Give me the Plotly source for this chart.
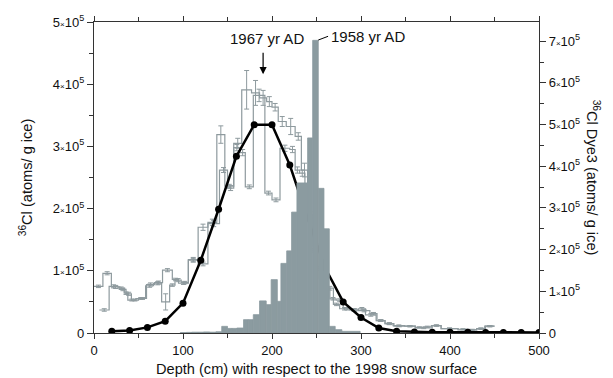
import plotly.graph_objects as go

# ---------------- data (values in units of 1e5 atoms/g ice) ----------------
# Summit 36Cl step profile, series A (bin edges in cm, values, 1-sigma errors)
a_edges = [0, 10, 19.5, 29, 36, 42, 50, 59, 68, 77, 88, 95, 106, 117, 128, 138, 147, 157, 166, 177,
           186, 194, 200, 207, 216, 226, 233, 240, 246, 253, 261, 269, 276, 287, 297, 305, 317, 327,
           337, 349, 361, 370, 379, 390, 409, 420, 430, 439, 450]
a_values = [0.75, 0.96, 0.74, 0.70, 0.63, 0.53, 0.555, 0.78, 0.81, 1.01, 0.86, 0.80, 1.18, 1.70, 1.78,
            3.19, 2.36, 3.05, 3.91, 3.86, 3.78, 3.72, 3.63, 3.40, 3.32, 3.16, 2.62, 1.90, 1.40, 0.88,
            0.72, 0.46, 0.39, 0.37, 0.39, 0.29, 0.20, 0.15, 0.11, 0.11, 0.09, 0.10, 0.12, 0.07, 0.06,
            0.05, 0.07, 0.11]
a_errors = [0.02, 0.025, 0.025, 0.02, 0.025, 0.015, 0.015, 0.025, 0.025, 0.025, 0.02, 0.02, 0.035, 0.05,
            0.05, 0.14, 0.03, 0.08, 0.31, 0.20, 0.12, 0.08, 0.06, 0.08, 0.13, 0.06, 0.11, 0.05, 0.04,
            0.03, 0.03, 0.02, 0.02, 0.02, 0.02, 0.02, 0.015, 0.015, 0.01, 0.01, 0.01, 0.01, 0.01,
            0.01, 0.01, 0.01, 0.01, 0.01]

# series B (second, offset sampling)
b_edges = [6, 17, 27, 34, 38, 47, 58, 67, 76, 85, 91, 98, 106, 117, 128, 141, 150, 157, 164, 170, 179,
           192, 200, 209, 220, 226, 231, 237, 243, 250, 257, 265, 272, 280, 289, 297, 310, 318, 327,
           336, 349, 361, 380, 390, 409, 430, 440, 450]
b_values = [0.37, 0.75, 0.72, 0.64, 0.53, 0.555, 0.76, 0.80, 0.50, 0.77, 0.85, 0.81, 1.17, 1.11, 1.76,
            2.62, 2.33, 2.98, 2.90, 2.35, 3.82, 2.25, 2.14, 2.97, 2.95, 2.62, 2.57, 2.00, 1.33, 1.04,
            0.72, 0.55, 0.53, 0.39, 0.37, 0.36, 0.31, 0.20, 0.15, 0.12, 0.11, 0.08, 0.12, 0.07, 0.05,
            0.07, 0.11]
b_errors = [0.02, 0.025, 0.02, 0.02, 0.015, 0.015, 0.025, 0.025, 0.13, 0.02, 0.025, 0.02, 0.03, 0.03,
            0.05, 0.04, 0.04, 0.05, 0.05, 0.03, 0.10, 0.03, 0.03, 0.05, 0.05, 0.05, 0.05, 0.04, 0.03,
            0.03, 0.03, 0.02, 0.02, 0.02, 0.02, 0.02, 0.02, 0.015, 0.015, 0.01, 0.01, 0.01, 0.01,
            0.01, 0.01, 0.01, 0.01]

# Dye3 36Cl histogram (right axis)
dye3_edges = [97, 104, 110, 117, 123, 130, 137, 143.5, 150, 155, 160.5, 168, 173.5, 179, 186, 193.5,
              199, 206, 210, 216.5, 222, 228, 240, 245.7, 252, 258.4, 264.4, 271, 278.5, 299]
dye3_values = [0.01, 0.015, 0.02, 0.02, 0.025, 0.02, 0.03, 0.16, 0.11, 0.11, 0.12, 0.32, 0.32, 0.44,
               0.77, 0.68, 1.28, 0.76, 1.67, 1.97, 2.90, 3.60, 4.68, 7.02, 3.47, 2.50, 0.16, 0.08, 0.04]

# model curve (left axis)
model_depth = [20, 40, 60, 80, 100, 120, 140, 160, 180, 200, 220, 240, 260, 280, 300, 320, 340, 360,
               380, 400, 420, 440, 460, 480, 500]
model_values = [0.03, 0.04, 0.09, 0.19, 0.48, 1.17, 1.99, 2.84, 3.35, 3.35, 2.70, 1.845, 1.04, 0.50,
                0.25, 0.08, 0.027, 0.016, 0.014, 0.011, 0.011, 0.01, 0.01, 0.01, 0.01]

left_ticks = [0, 1, 2, 3, 4, 5]
right_ticks = [0, 1, 2, 3, 4, 5, 6, 7]
x_ticks = [0, 100, 200, 300, 400, 500]

# ---------------- styles ----------------
STEP = "#8e9a9e"
BAR = "#8b9ba0"
AXIS = "#333333"
FONT = "Liberation Sans, Arial, sans-serif"


def sci(v):
    if v == 0:
        return "0"
    return f"{v}<span style='font-size:8px'>×</span>10<sup>5</sup>"


fig = go.Figure()

# Dye3 bars
centers = [(dye3_edges[i] + dye3_edges[i + 1]) / 2 for i in range(len(dye3_values))]
widths = [dye3_edges[i + 1] - dye3_edges[i] for i in range(len(dye3_values))]
fig.add_trace(go.Bar(x=centers, y=dye3_values, width=widths, yaxis="y2",
                     marker=dict(color=BAR, line=dict(width=0.8, color=BAR)), hoverinfo="skip"))

# step series with error bars
for edges, vals, errs in [(a_edges, a_values, a_errors), (b_edges, b_values, b_errors)]:
    fig.add_trace(go.Scatter(x=edges, y=vals + [vals[-1]], mode="lines", line_shape="hv",
                             line=dict(color=STEP, width=1.2), hoverinfo="skip"))
    mids = [(edges[i] + edges[i + 1]) / 2 for i in range(len(vals))]
    fig.add_trace(go.Scatter(x=mids, y=vals, mode="markers",
                             marker=dict(size=1, color="rgba(0,0,0,0)"),
                             error_y=dict(type="data", array=errs, visible=True, color=STEP,
                                          thickness=1, width=2.5), hoverinfo="skip"))

# model curve
fig.add_trace(go.Scatter(x=model_depth, y=model_values, mode="lines+markers",
                         line=dict(color="black", width=2.5),
                         marker=dict(color="black", size=7), hoverinfo="skip"))

fig.update_layout(
    width=613, height=378,
    margin=dict(l=94, r=74, t=22, b=45),
    plot_bgcolor="white", paper_bgcolor="white",
    showlegend=False,
    font=dict(family=FONT, size=13, color="#111"),
    xaxis=dict(range=[0, 500], tickvals=x_ticks, ticktext=[str(v) for v in x_ticks],
               ticks="outside", ticklen=5, tickwidth=1, tickcolor=AXIS,
               minor=dict(dtick=50, ticks="outside", ticklen=4, tickcolor=AXIS),
               showline=True, linecolor=AXIS, linewidth=1.2, mirror="ticks",
               showgrid=False, zeroline=False, tickfont=dict(size=13)),
    yaxis=dict(range=[0, 5], tickvals=left_ticks, ticktext=[sci(v) for v in left_ticks],
               ticks="outside", ticklen=6, tickwidth=1, tickcolor=AXIS,
               minor=dict(dtick=0.5, ticks="outside", ticklen=4, tickcolor=AXIS),
               showline=True, linecolor=AXIS, linewidth=1.2,
               showgrid=False, zeroline=False, tickfont=dict(size=13)),
    yaxis2=dict(range=[0, 7.46], overlaying="y", side="right",
                tickvals=right_ticks, ticktext=[sci(v) for v in right_ticks],
                ticks="outside", ticklen=6, tickwidth=1, tickcolor=AXIS,
                minor=dict(dtick=0.5, ticks="outside", ticklen=4, tickcolor=AXIS),
                showline=True, linecolor=AXIS, linewidth=1.2,
                showgrid=False, zeroline=False, tickfont=dict(size=13)),
)

annotations = [
    dict(text="Depth (cm) with respect to the 1998 snow surface", xref="paper", yref="paper",
         x=0.5, y=-0.115, showarrow=False, font=dict(size=14.6), yanchor="middle"),
    dict(text="<sup>36</sup>Cl (atoms/ g ice)", xref="paper", yref="paper", x=-0.178, y=0.5,
         textangle=-90, showarrow=False, font=dict(size=14.6)),
    dict(text="<sup>36</sup>Cl Dye3 (atoms/ g ice)", xref="paper", yref="paper", x=1.148, y=0.5,
         textangle=90, showarrow=False, font=dict(size=14.6)),
    dict(text="1967 yr AD", x=194.5, y=4.74, xref="x", yref="y", showarrow=False,
         font=dict(size=15)),
    dict(text="", x=190, y=4.16, ax=190, ay=4.53, xref="x", yref="y", axref="x", ayref="y",
         showarrow=True, arrowhead=2, arrowsize=1.2, arrowwidth=1.2, arrowcolor="black"),
    dict(text="1958 yr AD", x=264, y=4.76, xref="x", yref="y", xanchor="left", showarrow=False,
         font=dict(size=15)),
]
fig.update_layout(annotations=annotations)
fig.add_shape(type="line", x0=252, y0=4.71, x1=263, y1=4.77, xref="x", yref="y",
              line=dict(color="black", width=1))

fig.write_html("out.html")
